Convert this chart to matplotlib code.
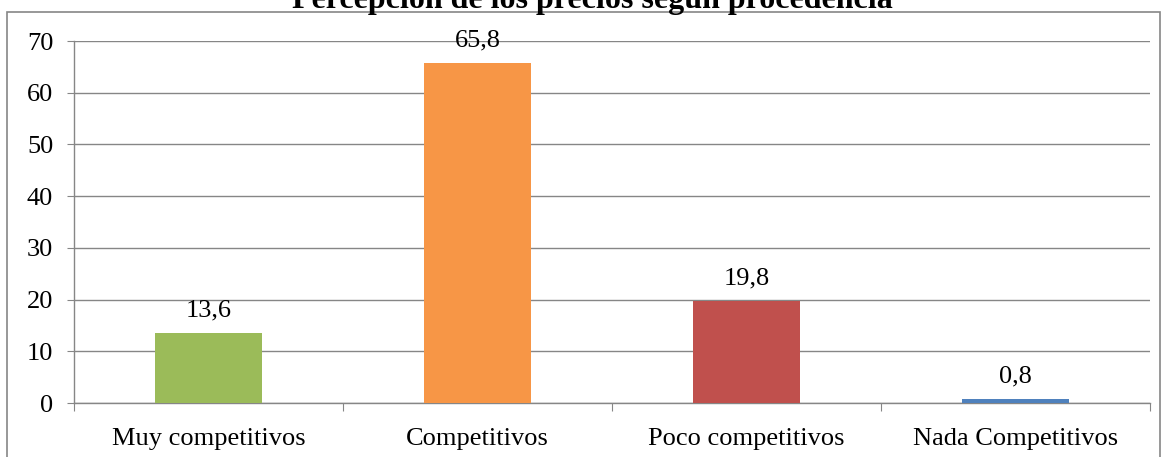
import matplotlib
matplotlib.use("Agg")
import matplotlib.pyplot as plt
from matplotlib.patches import Rectangle

categories = ["Muy competitivos", "Competitivos", "Poco competitivos", "Nada Competitivos"]
values = [13.6, 65.8, 19.8, 0.8]
value_labels = ["13,6", "65,8", "19,8", "0,8"]
colors = ["#9BBB59", "#F79646", "#C0504D", "#4F81BD"]
yticks = [0, 10, 20, 30, 40, 50, 60, 70]
title = "Percepción de los precios según procedencia"

plt.rcParams['font.family'] = ['Liberation Serif', 'DejaVu Serif']

W, H = 1166, 457
FS = 19
fig = plt.figure(figsize=(W / 100, H / 100), dpi=100)
ax = fig.add_axes([74 / W, 1 - 403 / H, (1150 - 74) / W, (403 - 41) / H])

x = list(range(len(categories)))
ax.bar(x, values, width=0.4, color=colors, zorder=3)
for xi, v, lab in zip(x, values, value_labels):
    ax.annotate(lab, (xi, v), xytext=(0, 8), textcoords='offset points',
                ha='center', va='bottom', fontsize=FS, color='black')

ax.set_xlim(-0.5, 3.5)
ax.set_ylim(0, 70)
ax.set_yticks(yticks)
ax.set_yticklabels([str(t) for t in yticks], fontsize=FS)
ax.yaxis.grid(True, color='#868686', linewidth=1.0, zorder=0)
ax.set_axisbelow(True)

ax.set_xticks([-0.5, 0.5, 1.5, 2.5, 3.5])
ax.set_xticklabels([])
ax.set_xticks(x, minor=True)
ax.set_xticklabels(categories, minor=True, fontsize=FS)
ax.tick_params(axis='x', which='major', length=6, color='#868686', direction='out')
ax.tick_params(axis='x', which='minor', length=0, pad=18)
ax.tick_params(axis='y', length=5, color='#868686', pad=10, direction='out')

for s in ['top', 'right']:
    ax.spines[s].set_visible(False)
for s in ['left', 'bottom']:
    ax.spines[s].set_color('#868686')
    ax.spines[s].set_linewidth(1.0)

fig.text(592 / W, 1 - 8 / H, title, ha='center', va='baseline',
         fontsize=23, fontweight='bold')

fig.patches.append(Rectangle((7 / W, -0.05), (1160 - 7) / W, 1 - 12 / H + 0.05,
                             transform=fig.transFigure, fill=False,
                             edgecolor='#868686', linewidth=1.2))

fig.savefig("out.png", dpi=100)
